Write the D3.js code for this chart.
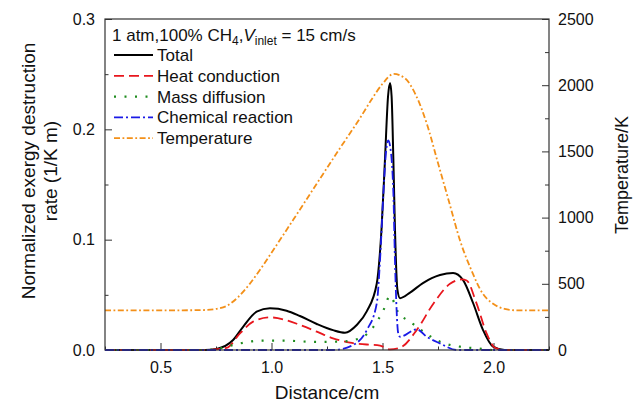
<!DOCTYPE html>
<html>
<head>
<meta charset="utf-8">
<script src="https://cdn.jsdelivr.net/npm/d3@7"></script>
<style>
  body { margin: 0; background: #fff; }
  svg { display: block; font-family: "Liberation Sans", Arial, sans-serif; }
</style>
</head>
<body>
<svg width="640" height="404"></svg>
<script>
// values: [distance (cm), value]
var totalData = [
  [0.25, 0], [0.70, 0], [0.753, 0.001], [0.827, 0.009], [0.872, 0.021], [0.933, 0.0347],
  [0.993, 0.0378], [1.068, 0.0356], [1.128, 0.0308], [1.204, 0.0236], [1.277, 0.018],
  [1.331, 0.0157], [1.384, 0.0227], [1.429, 0.035], [1.474, 0.060], [1.496, 0.111],
  [1.511, 0.172], [1.525, 0.230], [1.534, 0.242], [1.541, 0.230], [1.549, 0.172],
  [1.556, 0.111], [1.567, 0.055], [1.579, 0.047], [1.624, 0.052], [1.682, 0.0607],
  [1.759, 0.068], [1.818, 0.0698], [1.863, 0.0634], [1.908, 0.0426], [1.953, 0.018],
  [1.998, 0.003], [2.05, 0], [2.25, 0]
];
var heatData = [
  [0.25, 0], [0.70, 0], [0.798, 0.002], [0.858, 0.015], [0.917, 0.0257], [0.993, 0.0296],
  [1.068, 0.027], [1.128, 0.0227], [1.204, 0.0166], [1.277, 0.0106], [1.354, 0.0066],
  [1.429, 0.005], [1.489, 0.004], [1.534, 0.0005], [1.579, 0.002], [1.654, 0.018],
  [1.729, 0.042], [1.804, 0.060], [1.857, 0.064], [1.879, 0.063], [1.924, 0.042],
  [1.969, 0.015], [2.007, 0.002], [2.05, 0], [2.25, 0]
];
var massData = [
  [0.25, 0], [0.70, 0], [0.753, 0.001], [0.858, 0.006], [0.948, 0.0085], [1.052, 0.0085],
  [1.204, 0.0073], [1.309, 0.0076], [1.399, 0.0106], [1.459, 0.021], [1.504, 0.036],
  [1.534, 0.049], [1.571, 0.034], [1.624, 0.0257], [1.684, 0.0166], [1.759, 0.0075],
  [1.849, 0.003], [1.924, 0.0015], [1.998, 0], [2.25, 0]
];
var chemData = [
  [0.25, 0], [1.278, 0], [1.368, 0.0045], [1.429, 0.018], [1.474, 0.042], [1.489, 0.082],
  [1.504, 0.142], [1.516, 0.180], [1.526, 0.190], [1.534, 0.185], [1.549, 0.142],
  [1.556, 0.082], [1.571, 0.015], [1.579, 0.012], [1.654, 0.0188], [1.699, 0.012],
  [1.759, 0.006], [1.834, 0], [2.25, 0]
];
var tempData = [
  [0.25, 300], [0.60, 300], [0.70, 302], [0.75, 310], [0.80, 335], [0.85, 400],
  [0.90, 495], [0.95, 610], [1.00, 735], [1.10, 989], [1.20, 1246], [1.30, 1503],
  [1.40, 1755], [1.45, 1890], [1.50, 2010], [1.55, 2085], [1.60, 2054], [1.65, 1926],
  [1.70, 1707], [1.75, 1412], [1.80, 1118], [1.85, 823], [1.90, 604], [1.95, 430],
  [2.00, 347], [2.05, 310], [2.10, 300], [2.25, 300]
];

var xTicks = [0.5, 1.0, 1.5, 2.0];
var xMinor = [0.25, 0.75, 1.25, 1.75, 2.25];
var yTicks = [0, 0.1, 0.2, 0.3];
var yMinor = [0.05, 0.15, 0.25];
var tTicks = [0, 500, 1000, 1500, 2000, 2500];
var tMinor = [250, 750, 1250, 1750, 2250];

var series = [
  { name: "Total", data: totalData, color: "#000000", dash: null, width: 2 },
  { name: "Heat conduction", data: heatData, color: "#e8161d", dash: "10,5", width: 1.8 },
  { name: "Mass diffusion", data: massData, color: "#1e8c1e", dash: "2,8.5", width: 2.2 },
  { name: "Chemical reaction", data: chemData, color: "#1a1ae6", dash: "9,3,2,3", width: 1.8 },
  { name: "Temperature", data: tempData, color: "#f39019", dash: "6,2.5,1.8,2.5", width: 1.8, right: true }
];

var margin = { top: 19, right: 91, bottom: 54, left: 105 };
var W = 640, H = 404;
var iw = W - margin.left - margin.right;
var ih = H - margin.top - margin.bottom;

var svg = d3.select("svg");
var g = svg.append("g").attr("transform", `translate(${margin.left},${margin.top})`);

var x = d3.scaleLinear().domain([0.25, 2.25]).range([0, iw]);
var yL = d3.scaleLinear().domain([0, 0.3]).range([ih, 0]);
var yR = d3.scaleLinear().domain([0, 2500]).range([ih, 0]);

svg.append("defs").append("clipPath").attr("id", "clip")
  .append("rect").attr("x", 0).attr("y", -1).attr("width", iw).attr("height", ih + 2);

// axes, ticks pointing inward
function styleAxis(sel) {
  sel.select(".domain").remove();
  sel.selectAll(".tick line").attr("stroke", "#333");
  sel.selectAll("text").attr("fill", "#111").style("font-size", "16px")
    .style("font-family", "Liberation Sans, Arial, sans-serif");
}

g.append("g").attr("transform", `translate(0,${ih})`)
  .call(d3.axisBottom(x).tickValues(xTicks).tickSize(-7).tickPadding(12).tickFormat(d3.format(".1f")))
  .call(styleAxis);
g.append("g").attr("transform", `translate(0,${ih})`)
  .call(d3.axisBottom(x).tickValues(xMinor).tickSize(-3.5).tickFormat(""))
  .call(styleAxis);

g.append("g")
  .call(d3.axisLeft(yL).tickValues(yTicks).tickSize(-7).tickPadding(10).tickFormat(d3.format(".1f")))
  .call(styleAxis);
g.append("g")
  .call(d3.axisLeft(yL).tickValues(yMinor).tickSize(-3.5).tickFormat(""))
  .call(styleAxis);

g.append("g").attr("transform", `translate(${iw},0)`)
  .call(d3.axisRight(yR).tickValues(tTicks).tickSize(-7).tickPadding(9).tickFormat(d3.format("d")))
  .call(styleAxis);
g.append("g").attr("transform", `translate(${iw},0)`)
  .call(d3.axisRight(yR).tickValues(tMinor).tickSize(-4).tickFormat(""))
  .call(styleAxis);

// curves
var plot = g.append("g").attr("clip-path", "url(#clip)");
series.forEach(function(s) {
  var yScale = s.right ? yR : yL;
  var line = d3.line()
    .x(d => x(d[0]))
    .y(d => yScale(d[1]))
    .curve(d3.curveMonotoneX);
  plot.append("path")
    .datum(s.data)
    .attr("fill", "none")
    .attr("stroke", s.color)
    .attr("stroke-width", s.width)
    .attr("stroke-dasharray", s.dash)
    .attr("d", line);
});

// frame
g.append("rect")
  .attr("width", iw).attr("height", ih)
  .attr("fill", "none").attr("stroke", "#333").attr("stroke-width", 1.2);

// axis titles
svg.append("text")
  .attr("x", margin.left + iw / 2).attr("y", 399)
  .attr("text-anchor", "middle").style("font-size", "19px").attr("fill", "#111")
  .text("Distance/cm");

var leftTitle = svg.append("g").attr("text-anchor", "middle").style("font-size", "19px").attr("fill", "#111");
leftTitle.append("text").attr("transform", "translate(35,171) rotate(-90)")
  .text("Normalized exergy destruction");
leftTitle.append("text").attr("transform", "translate(57,171) rotate(-90)")
  .text("rate (1/K m)");

svg.append("text")
  .attr("transform", "translate(628,175) rotate(-90)")
  .attr("text-anchor", "middle").style("font-size", "18px").attr("fill", "#111")
  .text("Temperature/K");

// legend
var legend = svg.append("g").style("font-size", "17px").attr("fill", "#111");
var title = legend.append("text").attr("x", 112).attr("y", 41);
title.append("tspan").text("1 atm,100% CH");
title.append("tspan").attr("dy", 4).style("font-size", "12px").text("4");
title.append("tspan").attr("dy", -4).text(",");
title.append("tspan").style("font-style", "italic").text("V");
title.append("tspan").attr("dy", 4).style("font-size", "12px").text("inlet");
title.append("tspan").attr("dy", -4).text(" = 15 cm/s");

series.forEach(function(s, i) {
  var yy = 55 + i * 20.8;
  legend.append("line")
    .attr("x1", 114).attr("x2", 153).attr("y1", yy).attr("y2", yy)
    .attr("stroke", s.color).attr("stroke-width", s.width)
    .attr("stroke-dasharray", s.dash);
  legend.append("text").attr("x", 157).attr("y", yy).attr("dy", "0.35em").text(s.name);
});
</script>
</body>
</html>
